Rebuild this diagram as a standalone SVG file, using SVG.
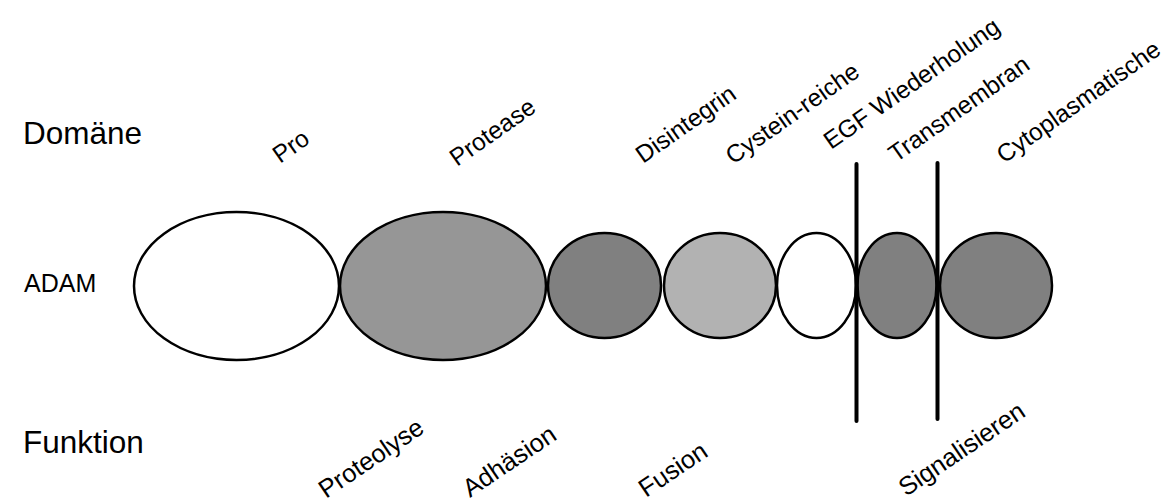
<svg xmlns="http://www.w3.org/2000/svg" width="1174" height="502" viewBox="0 0 1174 502">
  <style>
    .title { font-family: "Liberation Sans", Arial, sans-serif; font-size: 31.5px; fill: #000; }
    .row { font-family: "Liberation Sans", Arial, sans-serif; font-size: 25px; fill: #000; }
    .lbl { font-family: "Liberation Sans", Arial, sans-serif; font-size: 24.5px; fill: #000; }
    .fn { font-family: "Liberation Sans", Arial, sans-serif; font-size: 25.5px; fill: #000; }
    .dom { stroke: #000; stroke-width: 2.5; }
    .membrane { stroke: #000; stroke-width: 4; stroke-linecap: round; fill: none; }
  </style>
  <rect width="1174" height="502" fill="#fff"/>

  <!-- row headings -->
  <text class="title" x="23" y="144">Domäne</text>
  <text class="row" x="24" y="292">ADAM</text>
  <text class="title" x="23" y="453">Funktion</text>

  <!-- domain chain -->
  <g id="pro"><ellipse class="dom" cx="236.5" cy="286" rx="102.5" ry="74" fill="#ffffff"/></g>
  <g id="protease"><ellipse class="dom" cx="443" cy="286" rx="103" ry="74" fill="#969696"/></g>
  <g id="disintegrin"><ellipse class="dom" cx="604.5" cy="285.5" rx="56.5" ry="52.5" fill="#808080"/></g>
  <g id="cysteine-rich"><ellipse class="dom" cx="720" cy="285.5" rx="56" ry="52.5" fill="#b2b2b2"/></g>
  <g id="egf"><ellipse class="dom" cx="816.5" cy="285.5" rx="39.5" ry="52.5" fill="#ffffff"/></g>
  <g id="transmembrane"><ellipse class="dom" cx="897" cy="285.5" rx="39.5" ry="52.5" fill="#808080"/></g>
  <g id="cytoplasmic"><ellipse class="dom" cx="996" cy="285.5" rx="56" ry="52.5" fill="#808080"/></g>

  <!-- membrane boundaries -->
  <g id="connectors">
    <line class="membrane" x1="856.5" y1="164" x2="856.5" y2="421"/>
    <line class="membrane" x1="937.5" y1="163" x2="937.5" y2="419"/>
  </g>

  <!-- domain names -->
  <g id="domain-labels">
    <text class="lbl" transform="translate(280,164) rotate(-35)">Pro</text>
    <text class="lbl" transform="translate(457,167) rotate(-35)">Protease</text>
    <text class="lbl" transform="translate(643,164) rotate(-35)">Disintegrin</text>
    <text class="lbl" transform="translate(733,165) rotate(-35)">Cystein-reiche</text>
    <text class="lbl" transform="translate(831,150) rotate(-35)">EGF Wiederholung</text>
    <text class="lbl" transform="translate(896,163) rotate(-35)">Transmembran</text>
    <text class="lbl" transform="translate(1004,164) rotate(-35)">Cytoplasmatische</text>
  </g>

  <!-- functions -->
  <g id="function-labels">
    <text class="fn" transform="translate(326,499) rotate(-34)">Proteolyse</text>
    <text class="fn" transform="translate(470,498) rotate(-34)">Adhäsion</text>
    <text class="fn" transform="translate(646,498) rotate(-34)">Fusion</text>
    <text class="fn" transform="translate(906,497) rotate(-34)">Signalisieren</text>
  </g>
</svg>
